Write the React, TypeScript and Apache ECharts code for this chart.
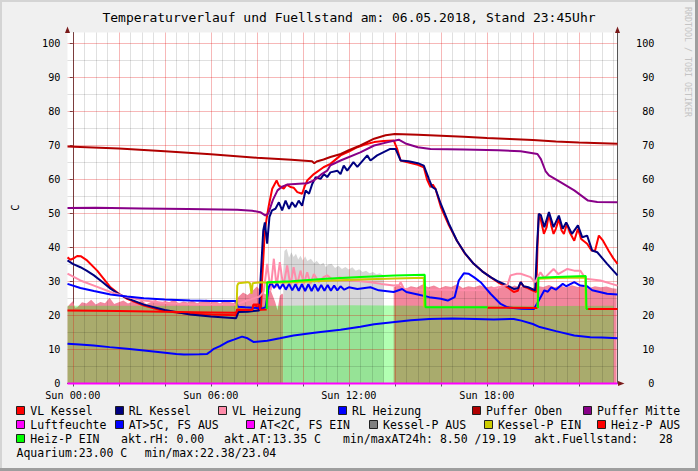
import { useEffect, useRef } from 'react';
import * as echarts from 'echarts';

const FONT = '"DejaVu Sans Mono", monospace';
const TITLE = 'Temperaturverlauf und Fuellstand am: 06.05.2018, Stand 23:45Uhr';

// axis ranges (hours since Sun 00:00, °C)
const X_MIN = -0.23;
const X_MAX = 23.68;
const Y_MIN = 0;
const Y_MAX = 103.24;
const X_LABEL_HOURS = [0, 6, 12, 18];
const X_LABELS = ['Sun 00:00', 'Sun 06:00', 'Sun 12:00', 'Sun 18:00'];
const Y_LABELS = [0, 10, 20, 30, 40, 50, 60, 70, 80, 90, 100];
const X_MAJOR = [0, 2, 4, 6, 8, 10, 12, 14, 16, 18, 20, 22];
const X_MINOR = [0.5, 1, 1.5, 2.5, 3, 3.5, 4.5, 5, 5.5, 6.5, 7, 7.5, 8.5, 9, 9.5, 10.5, 11, 11.5, 12.5, 13, 13.5, 14.5, 15, 15.5, 16.5, 17, 17.5, 18.5, 19, 19.5, 20.5, 21, 21.5, 22.5, 23, 23.5];
const Y_MAJOR = [10, 20, 30, 40, 50, 60, 70, 80, 90, 100];
const Y_MINOR = [5, 15, 25, 35, 45, 55, 65, 75, 85, 95];

// ---- series data: [hour, value] ----
const FUELL_PINK = [
  [-0.23, 22.6], [-0.1, 23.5], [0.0, 24.2], [0.1, 22.3], [0.2, 22.4], [0.4, 23.9], [0.6, 23.5], [0.8, 24.6], [1.0, 23.2], [1.2, 24.0],
  [1.4, 23.6], [1.6, 25.2], [1.8, 23.4], [2.0, 23.9], [2.2, 24.4], [2.4, 23.5], [2.6, 24.1], [2.8, 23.7], [3.0, 24.5], [3.2, 23.3],
  [3.4, 24.0], [3.6, 24.6], [3.8, 23.6], [4.0, 24.3], [4.2, 23.9], [4.4, 24.8], [4.6, 23.5], [4.8, 24.1], [5.0, 23.8], [5.2, 24.4],
  [5.4, 23.6], [5.6, 24.2], [5.8, 24.7], [6.0, 23.8], [6.2, 24.3], [6.4, 23.5], [6.6, 24.6], [6.8, 24.0], [7.0, 23.7], [7.2, 25.5],
  [7.4, 26.8], [7.6, 26.0], [7.8, 27.2], [8.0, 28.5], [8.2, 27.0], [8.4, 26.2], [8.6, 27.5], [8.8, 24.0], [8.9, 21.5], [9.0, 25.8],
  [9.1, 26.5], [9.15, 26.0], [9.16, '-'],
  [13.95, 28.4], [14.2, 29.0], [14.45, 27.9], [14.7, 28.6], [14.95, 28.2], [15.2, 29.1], [15.45, 28.3], [15.7, 28.8], [15.95, 28.0],
  [16.2, 28.7], [16.45, 28.4], [16.7, 29.2], [16.95, 28.1], [17.2, 28.6], [17.45, 28.3], [17.7, 28.9], [17.95, 28.2], [18.2, 28.6],
  [18.45, 27.9], [18.7, 28.5], [18.95, 28.1], [19.2, 28.8], [19.45, 28.3], [19.7, 28.6], [19.95, 28.0], [20.2, 28.7], [20.45, 28.4],
  [20.7, 29.0], [20.95, 28.3], [21.2, 28.8], [21.45, 28.2], [21.7, 28.9], [21.95, 28.4], [22.2, 28.7], [22.45, 28.1], [22.7, 28.6],
  [22.95, 28.3], [23.2, 28.5], [23.45, 28.0], [23.64, 27.9]
];
const FUELL_GRAY = [
  [9.15, 33.0], [9.2, 39.0], [9.3, 39.6], [9.4, 37.0], [9.5, 38.6], [9.6, 37.2], [9.7, 38.2], [9.8, 36.5], [9.9, 37.6], [10.0, 36.2],
  [10.1, 37.4], [10.2, 36.0], [10.35, 36.7], [10.5, 35.4], [10.6, 36.1], [10.75, 34.9], [10.9, 35.5], [11.0, 34.2], [11.1, 35.0],
  [11.25, 35.2], [11.4, 34.0], [11.55, 34.6], [11.7, 33.7], [11.85, 34.3], [12.0, 33.5], [12.15, 34.2], [12.3, 33.2], [12.45, 33.6],
  [12.6, 32.8], [12.75, 33.2], [12.9, 32.4], [13.05, 32.8], [13.2, 32.1], [13.35, 32.4], [13.52, 31.8]
];
const AQUARIUM = [
  [-0.23, 22.9], [3, 22.9], [6, 22.8], [9, 22.9], [12, 23.0], [15, 22.9], [18, 22.9], [21, 22.8], [23.51, 22.9]
];
const VL_KESSEL = [
  [-0.23, 37.1], [-0.1, 36.4], [0.05, 36.9], [0.19, 37.5], [0.36, 37.4], [0.62, 36.2], [1.06, 33.2], [1.64, 28.3], [2.0, 26.4],
  [2.36, 24.9], [3.09, 22.9], [3.8, 21.6], [4.5, 20.9], [5.1, 20.5], [6.0, 20.3], [7.1, 20.1], [7.15, 21.7], [7.5, 21.5], [7.8, 21.4],
  [7.85, 23.0], [8.0, 22.8], [8.05, 21.6], [8.18, 21.8], [8.23, 30.3], [8.35, 45.0], [8.45, 49.5], [8.52, 52.3], [8.67, 57.3],
  [8.86, 59.7], [8.96, 58.2], [9.17, 57.3], [9.3, 58.5], [9.46, 57.8], [9.6, 57.6], [9.76, 56.3], [9.97, 55.8], [10.08, 58.0],
  [10.19, 59.7], [10.48, 61.6], [10.9, 63.6], [11.2, 64.6], [11.64, 67.1], [12.0, 68.2], [12.37, 69.5], [12.7, 70.3], [13.1, 71.0],
  [13.5, 71.3], [13.95, 71.5], [14.1, 69.0], [14.25, 65.6], [14.6, 65.0], [15.0, 64.3], [15.26, 63.6], [15.4, 60.0], [15.55, 57.8],
  [15.65, 58.5], [15.77, 57.2], [16.0, 51.9], [16.35, 46.5], [16.7, 42.0], [17.05, 38.2], [17.43, 35.2], [17.8, 33.0], [18.16, 31.3],
  [18.5, 29.7], [18.9, 28.3], [19.17, 26.9], [19.35, 27.3], [19.47, 29.8], [19.6, 28.5], [19.8, 28.0], [20.0, 27.3], [20.15, 26.9],
  [20.2, 40.0], [20.26, 49.9], [20.35, 48.0], [20.48, 44.0], [20.6, 46.0], [20.7, 49.9], [20.8, 46.5], [20.9, 44.0], [21.0, 45.5],
  [21.13, 48.4], [21.25, 45.0], [21.35, 44.0], [21.48, 47.0], [21.6, 44.5], [21.8, 42.0], [21.96, 45.5], [22.1, 42.5], [22.36, 41.1],
  [22.55, 39.1], [22.7, 39.0], [22.87, 43.5], [23.05, 42.0], [23.3, 39.0], [23.5, 36.8], [23.68, 35.2]
];
const RL_KESSEL = [
  [-0.23, 36.2], [0.0, 35.2], [0.33, 34.2], [0.6, 33.2], [0.92, 31.8], [1.3, 29.8], [1.64, 27.9], [2.0, 26.3], [2.36, 25.1],
  [3.09, 23.2], [4.0, 21.6], [5.1, 20.3], [6.0, 19.7], [7.1, 19.2], [7.2, 21.0], [7.6, 21.1], [8.1, 21.5], [8.16, 30.3], [8.28, 45.0],
  [8.35, 47.4], [8.45, 41.1], [8.55, 49.0], [8.66, 50.9], [8.81, 51.4], [8.96, 53.3], [9.1, 50.9], [9.25, 53.8], [9.4, 51.4],
  [9.53, 53.3], [9.68, 51.9], [9.82, 53.8], [9.97, 52.3], [10.12, 56.8], [10.27, 55.8], [10.41, 58.7], [10.56, 60.7], [10.77, 60.2],
  [10.92, 61.6], [11.06, 60.7], [11.2, 62.1], [11.5, 62.6], [11.64, 61.6], [11.78, 64.1], [11.93, 62.6], [12.2, 65.1], [12.37, 63.7],
  [12.8, 67.1], [12.94, 65.6], [13.23, 67.1], [13.8, 69.0], [14.03, 69.0], [14.25, 65.6], [14.6, 65.4], [15.0, 64.8], [15.26, 64.1],
  [15.48, 60.2], [15.62, 57.8], [15.77, 57.2], [16.0, 52.8], [16.35, 47.0], [16.7, 42.0], [17.05, 38.3], [17.43, 35.2], [17.8, 33.0],
  [18.16, 31.3], [18.5, 30.0], [18.9, 28.8], [19.17, 27.8], [19.35, 28.0], [19.47, 29.8], [19.6, 28.6], [19.8, 28.3], [20.1, 27.4],
  [20.18, 40.0], [20.26, 49.9], [20.35, 49.5], [20.5, 46.0], [20.7, 50.4], [20.9, 46.0], [21.13, 49.4], [21.3, 45.5], [21.45, 47.4],
  [21.7, 44.0], [21.96, 46.5], [22.15, 43.0], [22.36, 43.5], [22.58, 39.1], [22.8, 38.6], [23.23, 35.2], [23.68, 31.8]
];
const VL_HEIZUNG = [
  [-0.23, 32.3], [0.33, 30.3], [0.92, 28.8], [1.64, 26.9], [2.36, 25.4], [3.09, 24.4], [4.0, 23.7], [5.1, 23.3], [7.1, 23.2],
  [7.6, 24.5], [8.1, 25.5], [8.3, 27.0], [8.45, 35.2], [8.6, 27.4], [8.74, 36.7], [8.86, 28.3], [9.0, 35.7], [9.15, 28.5], [9.32, 34.7],
  [9.46, 28.8], [9.6, 34.2], [9.75, 29.0], [9.9, 33.2], [10.05, 29.3], [10.19, 32.7], [10.33, 29.3], [10.48, 32.2], [10.7, 29.8],
  [10.9, 31.3], [11.06, 31.8], [11.3, 30.5], [11.6, 31.2], [12.2, 30.3], [12.94, 29.8], [13.4, 29.3], [13.95, 28.8], [14.2, 29.0],
  [14.25, 29.8], [14.4, 27.8], [15.0, 27.6], [16.0, 27.6], [17.0, 27.4], [18.0, 27.5], [18.9, 29.0], [19.03, 31.8], [19.3, 32.3],
  [19.47, 32.3], [19.9, 31.3], [20.1, 29.8], [20.33, 32.7], [20.5, 31.0], [20.9, 33.7], [21.1, 32.2], [21.5, 33.7], [21.8, 33.2],
  [22.06, 33.2], [22.3, 30.8], [22.94, 30.3], [23.68, 28.8]
];
const RL_HEIZUNG = [
  [-0.23, 29.3], [0.33, 28.1], [0.92, 27.2], [1.64, 26.2], [2.36, 25.6], [3.09, 25.1], [4.0, 24.7], [5.1, 24.4], [6.0, 24.3],
  [7.1, 24.3], [7.17, 22.6], [7.5, 22.4], [8.0, 22.2], [8.2, 22.0], [8.38, 22.4], [8.52, 28.3], [8.62, 29.8], [8.75, 28.1],
  [8.88, 29.5], [9.0, 27.8], [9.13, 29.3], [9.26, 27.6], [9.4, 29.3], [9.54, 27.4], [9.68, 29.2], [9.82, 27.3], [9.96, 29.2],
  [10.1, 27.2], [10.24, 29.2], [10.38, 27.2], [10.52, 29.1], [10.66, 27.2], [10.8, 29.0], [10.94, 27.3], [11.08, 29.0], [11.22, 27.3],
  [11.36, 28.8], [11.5, 27.4], [11.64, 28.6], [11.8, 27.6], [12.0, 28.3], [12.37, 27.8], [12.94, 28.3], [13.3, 27.4], [13.95, 26.9],
  [14.32, 27.8], [14.5, 26.9], [15.0, 26.2], [15.5, 25.4], [16.0, 24.9], [16.3, 24.4], [16.6, 25.4], [16.78, 30.3], [17.0, 32.4],
  [17.2, 32.3], [17.45, 31.2], [17.73, 29.8], [18.16, 26.4], [18.6, 23.4], [18.9, 22.4], [19.5, 22.0], [20.05, 21.9], [20.3, 24.9],
  [20.5, 27.4], [20.65, 27.0], [20.8, 28.3], [21.0, 27.6], [21.3, 29.3], [21.45, 28.6], [21.8, 29.8], [22.06, 28.8], [22.36, 28.6],
  [22.58, 27.4], [23.23, 26.4], [23.68, 26.2]
];
const PUFFER_OBEN = [
  [-0.23, 69.7], [2, 69.1], [4, 68.3], [6, 67.4], [8, 66.4], [9.5, 65.8], [10.4, 65.4], [10.5, 64.8], [10.6, 65.3], [10.9, 65.9],
  [11.2, 66.6], [11.65, 67.5], [12.0, 68.6], [12.5, 70.0], [13.1, 72.0], [13.6, 73.0], [14.0, 73.4], [15, 73.2], [16, 72.9],
  [17, 72.6], [18, 72.2], [19, 71.9], [20, 71.6], [21, 71.2], [22, 70.9], [23, 70.7], [23.68, 70.5]
];
const PUFFER_MITTE = [
  [-0.23, 51.6], [1, 51.7], [3, 51.5], [5, 51.3], [7.15, 51.1], [7.8, 50.8], [8.15, 50.4], [8.38, 49.4], [8.5, 50.0], [8.7, 54.0],
  [8.9, 56.8], [9.1, 57.9], [9.32, 58.5], [10.19, 58.9], [10.48, 59.7], [10.8, 61.5], [11.06, 62.6], [11.2, 64.2], [11.64, 65.6],
  [12.5, 68.0], [13.1, 70.0], [13.7, 71.0], [14.17, 71.7], [14.5, 70.5], [15.0, 69.5], [15.55, 69.0], [17.0, 68.8], [18.5, 68.6],
  [19.47, 68.3], [20.2, 67.5], [20.35, 66.0], [20.55, 62.5], [20.7, 61.2], [21.2, 59.2], [21.8, 56.8], [22.4, 53.8], [22.8, 53.4],
  [23.68, 53.3]
];
const LUFTFEUCHTE = [[-0.23, 0], [23.68, 0]];
const AUSSEN_TEMP = [
  [-0.23, 11.7], [0.3, 11.5], [0.91, 11.2], [1.6, 10.7], [2.36, 10.2], [3.1, 9.7], [3.81, 9.2], [4.5, 8.7], [4.83, 8.5], [5.5, 8.6],
  [5.84, 8.7], [6.0, 9.5], [6.13, 10.2], [6.4, 11.0], [6.71, 12.2], [7.0, 12.9], [7.36, 13.8], [7.6, 13.3], [7.87, 12.2], [8.45, 12.6],
  [9.0, 13.3], [9.6, 14.1], [10.5, 14.9], [11.06, 15.4], [11.64, 15.8], [12.5, 16.7], [13.1, 17.4], [14.0, 18.1], [14.7, 18.6],
  [15.5, 19.0], [16.5, 19.1], [17.5, 19.0], [18.3, 18.8], [19.17, 19.0], [19.5, 18.5], [20.0, 17.5], [20.3, 16.6], [21.0, 15.4],
  [21.8, 14.1], [22.5, 13.6], [23.0, 13.5], [23.68, 13.3]
];
const KESSELP_EIN = [
  [7.12, 22.0], [7.15, 28.8], [7.2, 29.5], [7.6, 29.8], [7.7, 29.5], [7.73, 28.3], [7.77, 26.4], [7.82, 29.5], [8.2, 29.8],
  [8.45, 29.6], [9.5, 29.8], [11.0, 30.2], [12.5, 30.6], [14.0, 30.9], [15.26, 31.1], [15.28, 22.4], [15.3, '-'],
  [20.2, 22.2], [20.23, 30.8], [21.0, 31.0], [22.28, 31.2], [22.3, 22.1]
];
const HEIZP_AUS = [
  [-0.23, 21.5], [2, 21.3], [4, 21.1], [6, 20.9], [7.1, 20.8], [7.15, 21.8], [7.5, 21.7], [7.8, 21.6], [7.85, 23.2], [8.1, 23.2],
  [8.15, 21.7], [8.43, 21.8], [8.44, '-'],
  [18.03, 22.3], [20.2, 22.2], [20.21, '-'],
  [22.33, 21.9], [23.68, 21.9]
];
const HEIZP_EIN = [
  [8.43, 21.9], [8.45, 29.8], [9.5, 30.1], [11.0, 30.8], [12.5, 31.3], [14.0, 31.8], [15.3, 32.0], [15.33, 22.4], [18.03, 22.4],
  [18.04, '-'],
  [20.22, 22.2], [20.24, 31.1], [21.0, 31.3], [22.3, 31.6], [22.33, 22.0], [22.4, 21.9]
];

// ---- legend ----
const LEGEND_ITEMS = [
  { name: 'VL Kessel', color: '#FF0000' },
  { name: 'RL Kessel', color: '#000080' },
  { name: 'VL Heizung', color: '#FF8CAA' },
  { name: 'RL Heizung', color: '#0000FF' },
  { name: 'Puffer Oben', color: '#B00000' },
  { name: 'Puffer Mitte', color: '#880088' },
  { name: 'Luftfeuchte', color: '#FF00FF' },
  { name: 'AT>5C, FS AUS', color: '#0000FF' },
  { name: 'AT<2C, FS EIN', color: '#FF00FF' },
  { name: 'Kessel-P AUS', color: '#808080' },
  { name: 'Kessel-P EIN', color: '#CCCC00' },
  { name: 'Heiz-P AUS', color: '#FF0000' },
  { name: 'Heiz-P EIN', color: '#00FF00' }
];
const LEGEND_TEXTS = [
  'akt.rH: 0.00',
  'akt.AT:13.35 C',
  'min/maxAT24h: 8.50 /19.19',
  'akt.Fuellstand:   28',
  'Aquarium:23.00 C',
  'min/max:22.38/23.04'
];
// layout: [textX, rowY]
const LEGEND_ITEM_POS = [
  [30.3, 411], [128.7, 411], [232, 411], [352, 411], [486, 411], [597, 411],
  [30.3, 425], [128.7, 425], [260, 425], [383, 425], [498, 425], [611, 425],
  [30.3, 439]
];
const LEGEND_TEXT_POS = [
  [121, 439], [224, 439], [343, 439], [534.3, 439], [16.5, 453], [144.7, 453]
];

export default function App() {
  const ref = useRef<HTMLDivElement>(null);
  useEffect(() => {
    if (!ref.current) return;
    const chart = echarts.init(ref.current, undefined, { renderer: 'svg' });

    const lineSeries = (name: string, data: any[], color: string, extra: any = {}) => ({
      name, type: 'line', data, showSymbol: false, symbol: 'none', silent: true, z: 3,
      lineStyle: { color, width: 2 }, connectNulls: false, ...extra
    });
    const areaSeries = (name: string, data: any[], color: string) => ({
      name, type: 'line', data, showSymbol: false, symbol: 'none', silent: true, z: 1,
      lineStyle: { width: 0, color }, areaStyle: { color, opacity: 1 }, connectNulls: false
    });

    const gridRed = 'rgba(225,0,0,0.28)';
    const gridGray = 'rgba(0,0,0,0.12)';
    const markData = [
      ...X_MINOR.map((h) => ({ xAxis: h, lineStyle: { color: gridGray, width: 1, type: 'solid' } })),
      ...Y_MINOR.map((v) => ({ yAxis: v, lineStyle: { color: gridGray, width: 1, type: 'solid' } })),
      ...X_MAJOR.map((h) => ({ xAxis: h, lineStyle: { color: gridRed, width: 1, type: 'solid' } })),
      ...Y_MAJOR.map((v) => ({ yAxis: v, lineStyle: { color: gridRed, width: 1, type: 'solid' } }))
    ];

    const legendGraphics: any[] = [];
    LEGEND_ITEMS.forEach((it, i) => {
      const [tx, ty] = LEGEND_ITEM_POS[i];
      legendGraphics.push({
        type: 'rect', shape: { x: Math.round(tx - 14) + 0.5, y: ty - 4.5, width: 8, height: 8 },
        style: { fill: it.color, stroke: '#202020', lineWidth: 1 }
      });
      legendGraphics.push({
        type: 'text', x: tx, y: ty,
        style: { text: it.name, fill: '#000', font: `11.5px ${FONT}`, align: 'left', verticalAlign: 'middle' }
      });
    });
    LEGEND_TEXTS.forEach((t, i) => {
      const [tx, ty] = LEGEND_TEXT_POS[i];
      legendGraphics.push({
        type: 'text', x: tx, y: ty,
        style: { text: t, fill: '#000', font: `11.5px ${FONT}`, align: 'left', verticalAlign: 'middle' }
      });
    });

    const arrowColor = '#7A1A1A';

    chart.setOption({
      animation: false,
      backgroundColor: '#F0F0F0',
      grid: { left: 67.5, top: 32.5, width: 550, height: 351, show: true, backgroundColor: '#FFFFFF', borderWidth: 0 },
      xAxis: {
        type: 'value', min: X_MIN, max: X_MAX,
        splitLine: { show: false },
        axisLine: { show: true, lineStyle: { color: '#555', width: 1 } },
        axisTick: { show: true, customValues: X_MAJOR, length: 3, lineStyle: { color: '#555' } },
        axisLabel: {
          customValues: X_LABEL_HOURS, margin: 7, color: '#000', fontFamily: FONT, fontSize: 10.2,
          formatter: (v: number) => X_LABELS[X_LABEL_HOURS.indexOf(v)] ?? ''
        }
      },
      yAxis: [
        {
          type: 'value', min: Y_MIN, max: Y_MAX, position: 'left',
          splitLine: { show: false },
          axisLine: { show: true, lineStyle: { color: '#555', width: 1 } },
          axisTick: { show: true, customValues: Y_LABELS, length: 3, lineStyle: { color: '#555' } },
          axisLabel: { customValues: Y_LABELS, margin: 7, color: '#000', fontFamily: FONT, fontSize: 10.2 }
        },
        {
          type: 'value', min: Y_MIN, max: Y_MAX, position: 'right',
          splitLine: { show: false },
          axisLine: { show: true, lineStyle: { color: '#555', width: 1 } },
          axisTick: { show: false },
          axisLabel: { customValues: Y_LABELS, margin: 37, align: 'right', color: '#000', fontFamily: FONT, fontSize: 10.2 }
        }
      ],
      series: [
        areaSeries('Fuellstand', FUELL_PINK, '#F2879D'),
        areaSeries('Fuellstand Kessel-P AUS', FUELL_GRAY, '#D7D7D7'),
        areaSeries('Aquarium', AQUARIUM, 'rgba(0,255,0,0.3)'),
        {
          name: 'grid', type: 'line', data: [], silent: true, z: 2,
          markLine: { silent: true, symbol: ['none', 'none'], label: { show: false }, z: 2, animation: false, data: markData }
        },
        lineSeries('VL Kessel', VL_KESSEL, '#FF0000'),
        lineSeries('RL Kessel', RL_KESSEL, '#000080'),
        lineSeries('VL Heizung', VL_HEIZUNG, '#FF8CAA'),
        lineSeries('RL Heizung', RL_HEIZUNG, '#0000FF'),
        lineSeries('Puffer Oben', PUFFER_OBEN, '#B00000'),
        lineSeries('Puffer Mitte', PUFFER_MITTE, '#880088'),
        lineSeries('Luftfeuchte', LUFTFEUCHTE, '#FF00FF', { clip: false }),
        lineSeries('AT>5C, FS AUS', AUSSEN_TEMP, '#0000FF'),
        lineSeries('Kessel-P EIN', KESSELP_EIN, '#CCCC00'),
        lineSeries('Heiz-P AUS', HEIZP_AUS, '#FF0000'),
        lineSeries('Heiz-P EIN', HEIZP_EIN, '#00FF00')
      ],
      graphic: [
        { type: 'rect', shape: { x: 0, y: 0, width: 698, height: 2 }, style: { fill: '#D4D4D4' } },
        { type: 'rect', shape: { x: 0, y: 0, width: 2, height: 471 }, style: { fill: '#D4D4D4' } },
        { type: 'rect', shape: { x: 695, y: 0, width: 3, height: 471 }, style: { fill: '#9E9E9E' } },
        { type: 'rect', shape: { x: 0, y: 468, width: 698, height: 3 }, style: { fill: '#9E9E9E' } },
        {
          type: 'text', x: 349, y: 17,
          style: { text: TITLE, fill: '#000', font: `13px ${FONT}`, align: 'center', verticalAlign: 'middle' }
        },
        {
          type: 'text', x: 15, y: 207.5, rotation: Math.PI / 2,
          style: { text: 'C', fill: '#000', font: `10.5px ${FONT}`, align: 'center', verticalAlign: 'middle' }
        },
        {
          type: 'text', x: 688, y: 62, rotation: -Math.PI / 2,
          style: { text: 'RRDTOOL / TOBI OETIKER', fill: '#C4C4C4', font: `8.3px ${FONT}`, align: 'center', verticalAlign: 'middle' }
        },
        { type: 'polygon', shape: { points: [[67.5, 26.5], [65, 33], [70, 33]] }, style: { fill: arrowColor }, z: 10 },
        { type: 'polygon', shape: { points: [[617.5, 26.5], [615, 33], [620, 33]] }, style: { fill: arrowColor }, z: 10 },
        { type: 'polygon', shape: { points: [[624.5, 383.5], [618, 381], [618, 386]] }, style: { fill: arrowColor }, z: 10 },
        ...legendGraphics
      ]
    });
    return () => chart.dispose();
  }, []);
  return <div ref={ref} style={{ position: 'fixed', left: 0, top: 0, width: 698, height: 471 }} />;
}
